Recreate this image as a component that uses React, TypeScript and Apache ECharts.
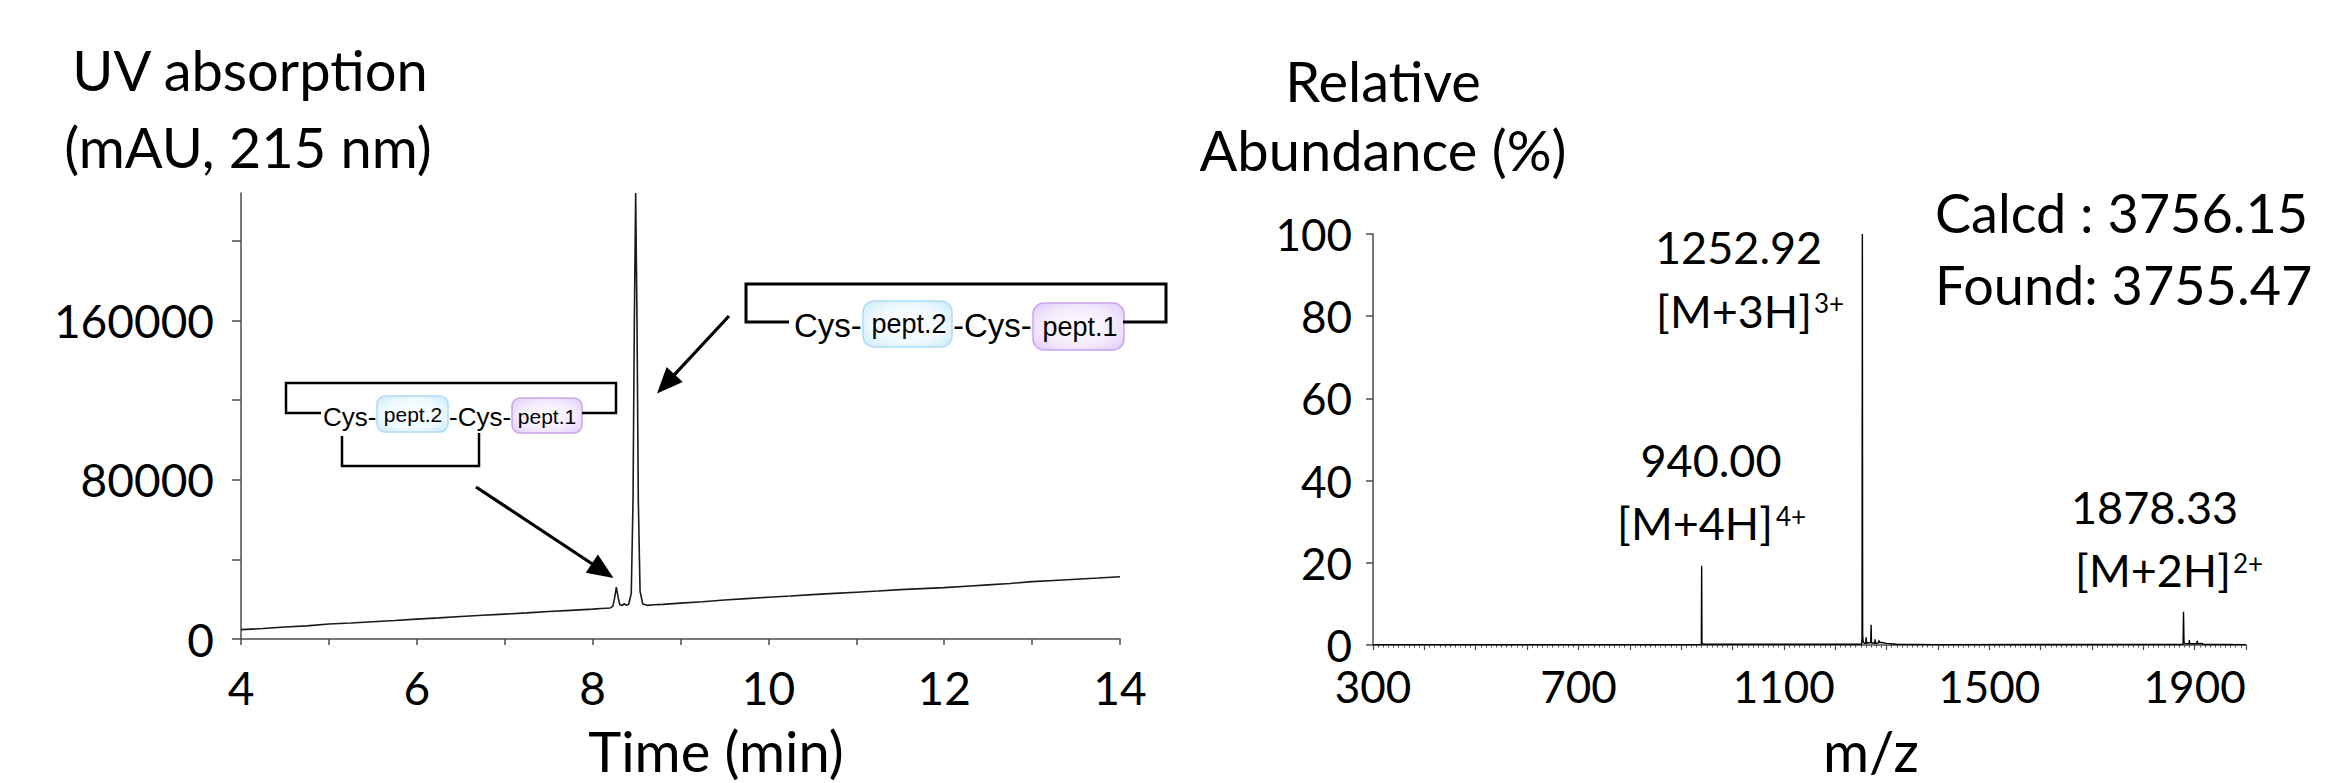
import React, { useEffect, useRef } from 'react';
import * as echarts from 'echarts';

// ---------- Data: UV chromatogram (time in min, absorbance in mAU) ----------
const uvTime = [
  4.0, 4.25, 4.5, 4.75, 5.0, 5.25, 5.5, 5.75, 6.0, 6.25, 6.5, 6.75, 7.0, 7.25, 7.5, 7.75,
  8.0, 8.1, 8.2, 8.23, 8.25, 8.27, 8.29, 8.31, 8.34, 8.36, 8.38, 8.41, 8.44, 8.46, 8.475,
  8.49, 8.505, 8.52, 8.54, 8.57, 8.62, 8.7, 8.8, 9.0, 9.25, 9.5, 9.75, 10.0, 10.25, 10.5,
  10.75, 11.0, 11.25, 11.5, 11.75, 12.0, 12.25, 12.5, 12.75, 13.0, 13.25, 13.5, 13.75, 14.0,
];
const uvAbsorbance = [
  4700, 5300, 6000, 6600, 7500, 8000, 8700, 9300, 10000, 10600, 11300, 11900, 12500, 13100, 13800, 14400,
  15000, 15300, 15600, 16400, 20500, 26000, 21000, 17200, 16900, 17800, 17000, 17300, 23000, 70000, 160000,
  224000, 160000, 70000, 24000, 17600, 16900, 17200, 17400, 18000, 18700, 19600, 20300, 21000, 21600, 22300,
  22900, 23500, 24100, 24800, 25300, 25800, 26500, 27200, 27900, 28800, 29400, 30000, 30600, 31300,
];
const uvXLabels = [4, 6, 8, 10, 12, 14];
const uvYLabels = [0, 80000, 160000];
const uvYTicks = [0, 40000, 80000, 120000, 160000, 200000];

// ---------- Data: mass spectrum (m/z, relative abundance %) ----------
const msMz = [
  300, 600, 938.8, 939.4, 940.0, 940.6, 941.5, 943,
  1251.8, 1252.3, 1252.92, 1253.5, 1254.5, 1257, 1259.5, 1260.3, 1261.2, 1263,
  1269.3, 1270.0, 1270.7, 1274, 1277.0, 1277.7, 1278.4, 1284, 1285.5, 1287, 1290, 1300, 1320, 1400,
  1877.5, 1878.33, 1879.3, 1882, 1889, 1889.7, 1890.5, 1904, 1905, 1906, 1915, 1916, 2000,
];
const msAbundance = [
  0.1, 0.1, 0.1, 0.3, 19.3, 0.6, 0.4, 0.2,
  0.2, 2.0, 100, 2.5, 0.8, 0.4, 0.4, 1.9, 0.4, 0.5,
  0.6, 4.9, 0.5, 0.5, 0.4, 1.4, 0.4, 0.5, 1.1, 0.6, 0.6, 0.4, 0.2, 0.1,
  0.2, 8.1, 0.6, 0.3, 0.3, 1.2, 0.3, 0.3, 1.0, 0.3, 0.4, 0.2, 0.1,
];
const msXLabels = [300, 700, 1100, 1500, 1900];

const FONT = 'Lato, "Noto Sans", sans-serif';
const PFONT = '"Liberation Sans", Arial, sans-serif';
const AXIS_COLOR = '#4d4d4d';
const plain = (v: number) => String(v);

function txt(text: string, x: number, y: number, size: number, align = 'left', family = FONT) {
  return {
    type: 'text',
    z: 20,
    style: {
      text, x, y, fontSize: size, fontFamily: family, fill: '#000',
      align, textAlign: align, verticalAlign: 'middle', textVerticalAlign: 'middle',
    },
  };
}

function arrow(x1: number, y1: number, x2: number, y2: number, head = 26, half = 11, lw = 3.2) {
  const dx = x2 - x1, dy = y2 - y1;
  const len = Math.sqrt(dx * dx + dy * dy);
  const ux = dx / len, uy = dy / len;
  const bx = x2 - ux * head, by = y2 - uy * head;
  const px = -uy, py = ux;
  return [
    { type: 'line', z: 20, shape: { x1, y1, x2: bx + ux * 2, y2: by + uy * 2 }, style: { stroke: '#000', lineWidth: lw } },
    {
      type: 'polygon', z: 20,
      shape: { points: [[x2, y2], [bx + px * half, by + py * half], [bx - px * half, by - py * half]] },
      style: { fill: '#000' },
    },
  ];
}

function bracket(points: number[][], lw: number) {
  return { type: 'polyline', z: 20, shape: { points }, style: { stroke: '#000', lineWidth: lw, fill: null } };
}

function box(x: number, y: number, w: number, h: number, r: number, kind: 'blue' | 'purple') {
  const edge = kind === 'blue' ? '#bfe7fa' : '#dcc2f8';
  const stroke = kind === 'blue' ? '#aedcf4' : '#c9a6f1';
  return {
    type: 'rect', z: 19,
    shape: { x, y, width: w, height: h, r },
    style: {
      fill: new echarts.graphic.RadialGradient(0.5, 0.5, 0.75, [
        { offset: 0, color: '#ffffff' },
        { offset: 0.55, color: kind === 'blue' ? '#eef9fe' : '#f3eafd' },
        { offset: 1, color: edge },
      ]),
      stroke, lineWidth: 1.5,
    },
  };
}

export default function App() {
  const ref = useRef<HTMLDivElement>(null);
  useEffect(() => {
    if (!ref.current) return;
    const chart = echarts.init(ref.current, null, { renderer: 'svg' });

    const axisLine = { show: true, lineStyle: { color: AXIS_COLOR, width: 1.5 } };

    const graphic: any[] = [
      // titles
      txt('UV absorption', 250, 69, 56, 'center'),
      txt('(mAU, 215 nm)', 248, 146, 56, 'center'),
      txt('Time (min)', 716, 750, 56, 'center'),
      txt('Relative', 1383, 80, 56, 'center'),
      txt('Abundance (%)', 1383, 149, 56, 'center'),
      txt('m/z', 1871, 750, 56, 'center'),
      txt('Calcd : 3756.15', 1935, 212, 54, 'left'),
      txt('Found: 3755.47', 1935, 284, 54, 'left'),
      // peak annotations
      txt('1252.92', 1655, 247, 45, 'left'),
      txt('[M+3H]', 1812, 311, 45, 'right'),
      txt('3+', 1814, 303, 26, 'left'),
      txt('940.00', 1711, 460, 45, 'center'),
      txt('[M+4H]', 1773, 523, 45, 'right'),
      txt('4+', 1776, 516, 26, 'left'),
      txt('1878.33', 2071, 507, 45, 'left'),
      txt('[M+2H]', 2231, 570, 45, 'right'),
      txt('2+', 2233, 563, 26, 'left'),
      // left structure (small peak)
      bracket([[321, 413], [286, 413], [286, 383], [616, 383], [616, 413], [582, 413]], 2.5),
      txt('Cys-', 323, 417, 26, 'left', PFONT),
      box(377, 396, 71, 36, 8, 'blue'),
      txt('pept.2', 413, 414, 21, 'center', PFONT),
      txt('-Cys-', 449, 417, 26, 'left', PFONT),
      box(512, 398, 70, 35, 8, 'purple'),
      txt('pept.1', 547, 416, 21, 'center', PFONT),
      bracket([[342, 436], [342, 466], [479, 466], [479, 433]], 2.5),
      // right structure (main peak)
      bracket([[789, 322], [746, 322], [746, 284], [1166, 284], [1166, 322], [1123, 322]], 3),
      txt('Cys-', 794, 325, 33, 'left', PFONT),
      box(863, 301, 89, 46, 11, 'blue'),
      txt('pept.2', 909, 324, 27, 'center', PFONT),
      txt('-Cys-', 953, 325, 33, 'left', PFONT),
      box(1033, 303, 91, 47, 11, 'purple'),
      txt('pept.1', 1080, 327, 27, 'center', PFONT),
      // arrows
      ...arrow(476, 487, 613.5, 578),
      ...arrow(729, 316, 657, 393.5),
    ];

    const option: any = {
      animation: false,
      backgroundColor: '#ffffff',
      textStyle: { fontFamily: FONT },
      grid: [
        { left: 241, top: 193, width: 879, height: 446, outerBoundsMode: 'none', containLabel: false },
        { left: 1373, top: 234, width: 873, height: 411, outerBoundsMode: 'none', containLabel: false },
      ],
      xAxis: [
        {
          type: 'value', gridIndex: 0, min: 4, max: 14, interval: 1,
          axisLine, splitLine: { show: false },
          axisTick: { show: true, length: 6, lineStyle: { color: AXIS_COLOR, width: 1.5 } },
          axisLabel: { customValues: uvXLabels, formatter: plain, fontSize: 46, margin: 25, color: '#000', fontFamily: FONT },
        },
        {
          type: 'value', gridIndex: 1, min: 300, max: 2000, interval: 100,
          axisLine, splitLine: { show: false },
          axisTick: { show: true, length: 5, lineStyle: { color: AXIS_COLOR, width: 1.2 } },
          minorTick: { show: true, splitNumber: 10, length: 2.5, lineStyle: { color: AXIS_COLOR, width: 1 } },
          minorSplitLine: { show: false },
          axisLabel: { customValues: msXLabels, formatter: plain, fontSize: 44, margin: 19, color: '#000', fontFamily: FONT },
        },
      ],
      yAxis: [
        {
          type: 'value', gridIndex: 0, min: 0, max: 224000, interval: 40000,
          axisLine, splitLine: { show: false },
          axisTick: { show: true, length: 9, customValues: uvYTicks, lineStyle: { color: AXIS_COLOR, width: 1.5 } },
          axisLabel: { customValues: uvYLabels, formatter: plain, fontSize: 46, margin: 27, color: '#000', fontFamily: FONT },
        },
        {
          type: 'value', gridIndex: 1, min: 0, max: 100, interval: 20,
          axisLine, splitLine: { show: false },
          axisTick: { show: true, length: 7, lineStyle: { color: AXIS_COLOR, width: 1.5 } },
          axisLabel: { formatter: plain, fontSize: 44, lineHeight: 34, margin: 21, color: '#000', fontFamily: FONT },
        },
      ],
      series: [
        {
          type: 'line', xAxisIndex: 0, yAxisIndex: 0, showSymbol: false, symbol: 'none',
          data: uvTime.map((t, i) => [t, uvAbsorbance[i]]),
          lineStyle: { color: '#1a1a1a', width: 1.6 }, clip: true,
        },
        {
          type: 'line', xAxisIndex: 1, yAxisIndex: 1, showSymbol: false, symbol: 'none',
          data: msMz.map((m, i) => [m, msAbundance[i]]),
          lineStyle: { color: '#000', width: 1.4 }, clip: true,
        },
      ],
      graphic,
    };

    chart.setOption(option);
    return () => chart.dispose();
  }, []);

  return (
    <div
      ref={ref}
      style={{ position: 'fixed', left: 0, top: 0, width: 2333, height: 783, background: '#fff' }}
    />
  );
}
